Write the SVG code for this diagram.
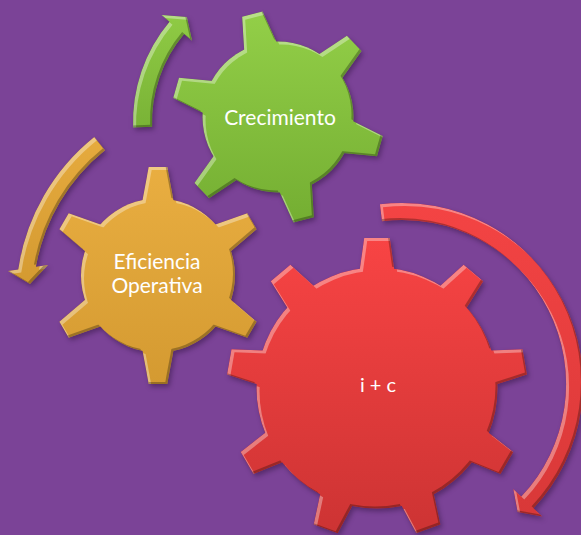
<svg xmlns="http://www.w3.org/2000/svg" width="581" height="535" viewBox="0 0 581 535">
  <style>
    .lbl { font-family: Lato, "Open Sans", "Liberation Sans", sans-serif; font-size: 21px; fill: #ffffff; text-anchor: middle; }
  </style>
  <defs>
    <linearGradient id="gGreen" gradientUnits="userSpaceOnUse" x1="0" y1="11" x2="0" y2="223">
      <stop offset="0" stop-color="#93cf48"/>
      <stop offset="1" stop-color="#74ae32"/>
    </linearGradient>
    <linearGradient id="gOrange" gradientUnits="userSpaceOnUse" x1="0" y1="167" x2="0" y2="384">
      <stop offset="0" stop-color="#e9ae41"/>
      <stop offset="1" stop-color="#d49a31"/>
    </linearGradient>
    <linearGradient id="gRed" gradientUnits="userSpaceOnUse" x1="0" y1="238" x2="0" y2="538">
      <stop offset="0" stop-color="#f84444"/>
      <stop offset="1" stop-color="#cc3333"/>
    </linearGradient>
    <linearGradient id="aGreen" gradientUnits="userSpaceOnUse" x1="0" y1="10" x2="0" y2="130">
      <stop offset="0" stop-color="#90cc45"/>
      <stop offset="1" stop-color="#79b236"/>
    </linearGradient>
    <linearGradient id="aOrange" gradientUnits="userSpaceOnUse" x1="0" y1="135" x2="0" y2="285">
      <stop offset="0" stop-color="#e6ab3e"/>
      <stop offset="1" stop-color="#d49a31"/>
    </linearGradient>
    <linearGradient id="aRed" gradientUnits="userSpaceOnUse" x1="0" y1="200" x2="0" y2="520">
      <stop offset="0" stop-color="#f44444"/>
      <stop offset="1" stop-color="#d83838"/>
    </linearGradient>
    <filter id="bevel" x="-10%" y="-10%" width="125%" height="125%" color-interpolation-filters="sRGB">
      <feGaussianBlur in="SourceAlpha" stdDeviation="2.5" result="blur"/>
      <feOffset in="blur" dx="1.5" dy="3" result="ob"/>
      <feFlood flood-color="#2a0f3a" flood-opacity="0.45"/>
      <feComposite in2="ob" operator="in" result="drop"/>
      <feOffset in="SourceAlpha" dx="2.5" dy="2.5" result="a1"/>
      <feComposite in="SourceAlpha" in2="a1" operator="out" result="rim1"/>
      <feGaussianBlur in="rim1" stdDeviation="0.7" result="rim1b"/>
      <feFlood flood-color="#ffffff" flood-opacity="0.35"/>
      <feComposite in2="rim1b" operator="in"/>
      <feComposite in2="SourceAlpha" operator="in" result="hl"/>
      <feOffset in="SourceAlpha" dx="-2.5" dy="-2.5" result="a2"/>
      <feComposite in="SourceAlpha" in2="a2" operator="out" result="rim2"/>
      <feGaussianBlur in="rim2" stdDeviation="0.7" result="rim2b"/>
      <feFlood flood-color="#000000" flood-opacity="0.28"/>
      <feComposite in2="rim2b" operator="in"/>
      <feComposite in2="SourceAlpha" operator="in" result="sh"/>
      <feMerge>
        <feMergeNode in="drop"/>
        <feMergeNode in="SourceGraphic"/>
        <feMergeNode in="hl"/>
        <feMergeNode in="sh"/>
      </feMerge>
    </filter>
    <polygon id="toothG" points="267.5,11 288.5,11 296.7,55 259.3,55"/>
    <polygon id="toothO" points="148.7,167 167.3,167 175.9,213.5 140.1,213.5"/>
    <polygon id="toothR" points="364.2,238 389.8,238 396.1,283 357.9,283"/>
    <mask id="mGreen" maskUnits="userSpaceOnUse" x="0" y="0" width="581" height="535">
      <g fill="#ffffff">
        <circle cx="278" cy="117" r="75.5"/>
        <use href="#toothG" transform="rotate(-14 278 117)"/>
        <use href="#toothG" transform="rotate(46 278 117)"/>
        <use href="#toothG" transform="rotate(106 278 117)"/>
        <use href="#toothG" transform="rotate(166 278 117)"/>
        <use href="#toothG" transform="rotate(226 278 117)"/>
        <use href="#toothG" transform="rotate(286 278 117)"/>
      </g>
    </mask>
    <mask id="mOrange" maskUnits="userSpaceOnUse" x="0" y="0" width="581" height="535">
      <g fill="#ffffff">
        <circle cx="158" cy="275.5" r="77"/>
        <use href="#toothO" transform="rotate(0 158 275.5)"/>
        <use href="#toothO" transform="rotate(60 158 275.5)"/>
        <use href="#toothO" transform="rotate(120 158 275.5)"/>
        <use href="#toothO" transform="rotate(180 158 275.5)"/>
        <use href="#toothO" transform="rotate(240 158 275.5)"/>
        <use href="#toothO" transform="rotate(300 158 275.5)"/>
      </g>
    </mask>
    <mask id="mRed" maskUnits="userSpaceOnUse" x="0" y="0" width="581" height="535">
      <g fill="#ffffff">
        <circle cx="377" cy="388" r="120.5"/>
        <use href="#toothR" transform="rotate(0 377 388)"/>
        <use href="#toothR" transform="rotate(40 377 388)"/>
        <use href="#toothR" transform="rotate(80 377 388)"/>
        <use href="#toothR" transform="rotate(120 377 388)"/>
        <use href="#toothR" transform="rotate(160 377 388)"/>
        <use href="#toothR" transform="rotate(200 377 388)"/>
        <use href="#toothR" transform="rotate(240 377 388)"/>
        <use href="#toothR" transform="rotate(280 377 388)"/>
        <use href="#toothR" transform="rotate(320 377 388)"/>
      </g>
    </mask>
  </defs>

  <rect x="0" y="0" width="581" height="535" fill="#7b4397"/>

  <g id="connectors">
    <path id="arrow-green" filter="url(#bevel)" fill="url(#aGreen)"
      d="M133.1,127.4 A156,156 0 0 1 169.5,21.7 L161.5,15 L186.9,17 L192.1,40.7 L184.1,33.9 A137,137 0 0 0 152.1,126.8 Z"/>
    <path id="arrow-orange" filter="url(#bevel)" fill="url(#aOrange)"
      d="M94.3,136.9 A209,209 0 0 0 18.25,269.4 L8,271 L30,284 L48,265 L35.9,266.8 A192,192 0 0 1 105,150.2 Z"/>
    <path id="arrow-red" filter="url(#bevel)" fill="url(#aRed)"
      d="M379.94,204.35 A181,181 0 0 1 533.6,508.2 L542.3,516.5 L517.6,512 L513.3,489 L521.3,496.6 A164,164 0 0 0 382.01,221.22 Z"/>
  </g>

  <g id="gear-crecimiento">
    <g filter="url(#bevel)">
      <rect x="160" y="0" width="240" height="235" fill="url(#gGreen)" mask="url(#mGreen)"/>
    </g>
    <text class="lbl" x="280" y="125">Crecimiento</text>
  </g>

  <g id="gear-eficiencia">
    <g filter="url(#bevel)">
      <rect x="40" y="155" width="240" height="240" fill="url(#gOrange)" mask="url(#mOrange)"/>
    </g>
    <text class="lbl" x="157" y="269">Eficiencia</text>
    <text class="lbl" x="157" y="293">Operativa</text>
  </g>

  <g id="gear-ic">
    <g filter="url(#bevel)">
      <rect x="215" y="225" width="325" height="310" fill="url(#gRed)" mask="url(#mRed)"/>
    </g>
    <text class="lbl" x="378" y="392" style="font-size:20px">i + c</text>
  </g>
</svg>
